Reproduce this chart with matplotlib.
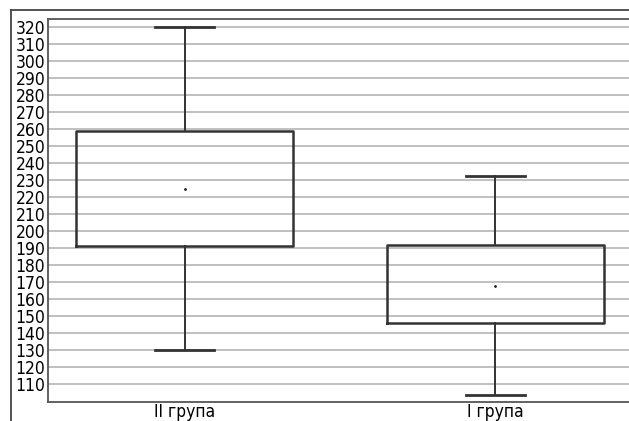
import matplotlib
matplotlib.use("Agg")
import matplotlib.pyplot as plt
from matplotlib import font_manager as fm
from matplotlib.lines import Line2D

categories = ["II група", "I група"]
whisker_low = [130, 103.5]
q1 = [191.5, 145.8]
q3 = [259.2, 191.8]
whisker_high = [320, 232.7]
means = [225, 168]
yticks = list(range(110, 321, 10))

# pick a condensed font if available
cands = [f for f in fm.fontManager.ttflist if f.name == 'DejaVu Sans' and f.stretch == 'condensed'
         and f.style == 'normal' and f.weight in (400, 'normal')]
if cands:
    fp = fm.FontProperties(fname=cands[0].fname)
else:
    fp = fm.FontProperties(family='DejaVu Sans')
fp.set_size(12.5)

fig = plt.figure(figsize=(6.29, 4.21), dpi=100)
ax = fig.add_axes([48/629, 19/421, 1 - 48/629 + 0.005, 383/421])

stats = []
for i, c in enumerate(categories):
    stats.append(dict(label=c, whislo=whisker_low[i], q1=q1[i], med=q1[i],
                      q3=q3[i], whishi=whisker_high[i], mean=means[i], fliers=[]))

ax.bxp(stats, positions=range(len(categories)), widths=0.7, showmeans=True,
       meanline=False, patch_artist=False, showfliers=False,
       boxprops=dict(color='#333333', linewidth=1.8),
       whiskerprops=dict(color='#333333', linewidth=1.4),
       capprops=dict(color='#333333', linewidth=2.0),
       medianprops=dict(linewidth=0),
       meanprops=dict(marker='.', markersize=2, markerfacecolor='#222222',
                      markeredgecolor='#222222'),
       capwidths=0.19)

ax.set_xlim(-0.44, 1.44)
ax.set_ylim(99.5, 325)
ax.set_yticks(yticks)
ax.set_yticklabels([str(t) for t in yticks], fontproperties=fp)
ax.set_xticks(range(len(categories)))
ax.set_xticklabels(categories, fontproperties=fp)
ax.tick_params(axis='both', length=0, pad=2)
ax.tick_params(axis='x', pad=1)
ax.yaxis.grid(True, color='#b5b5b5', linewidth=1.2)
ax.set_axisbelow(True)
for s in ['left', 'bottom', 'top']:
    ax.spines[s].set_color('#555555')
    ax.spines[s].set_linewidth(1.3)
ax.spines['right'].set_visible(False)

fig.add_artist(Line2D([11/629, 11/629], [0, 1 - 10/421], transform=fig.transFigure,
                      color='#444444', linewidth=1.3))
fig.add_artist(Line2D([11/629, 1], [1 - 10/421, 1 - 10/421], transform=fig.transFigure,
                      color='#444444', linewidth=1.3))

fig.savefig("out.png", dpi=100)
